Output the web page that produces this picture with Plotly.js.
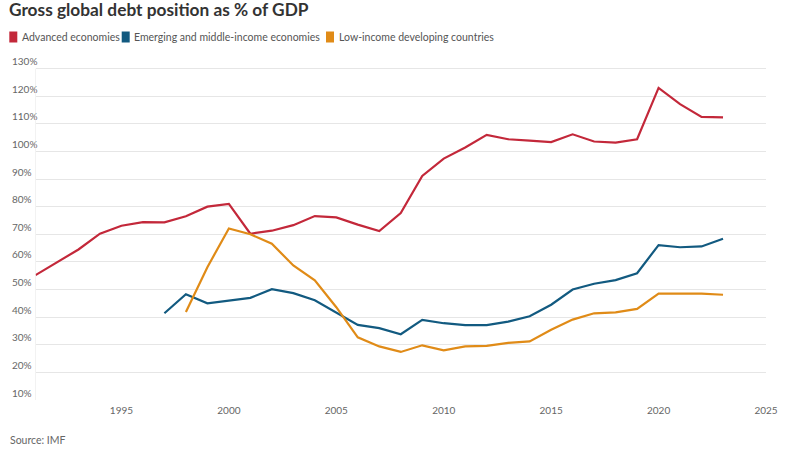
<!DOCTYPE html>
<html>
<head>
<meta charset="utf-8">
<script src="https://cdn.plot.ly/plotly-3.0.1.min.js"></script>
<style>
  html, body { margin: 0; padding: 0; background: #ffffff; }
  #chart { width: 788px; height: 454px; }
</style>
</head>
<body>
<div id="chart"></div>
<script>
// ---- Data ----
const years = [1991, 1992, 1993, 1994, 1995, 1996, 1997, 1998, 1999, 2000,
               2001, 2002, 2003, 2004, 2005, 2006, 2007, 2008, 2009, 2010,
               2011, 2012, 2013, 2014, 2015, 2016, 2017, 2018, 2019, 2020,
               2021, 2022, 2023];

const advanced = [55.2, 59.8, 64.5, 70.2, 73.1, 74.4, 74.3, 76.5, 80.0, 81.0,
                  70.2, 71.3, 73.3, 76.6, 76.1, 73.5, 71.2, 77.7, 91.1, 97.4,
                  101.4, 106.0, 104.4, 103.9, 103.4, 106.2, 103.6, 103.2, 104.4, 123.0,
                  117.1, 112.5, 112.3];

const emerging = [null, null, null, null, null, null, 41.4, 48.3, 45.0, 46.0,
                  47.0, 50.1, 48.7, 46.1, 41.5, 37.2, 36.0, 33.8, 39.0, 37.8,
                  37.1, 37.1, 38.4, 40.3, 44.5, 50.0, 52.1, 53.4, 55.9, 66.1,
                  65.3, 65.6, 68.4];

const lowIncome = [null, null, null, null, null, null, null, 41.9, 58.1, 72.1,
                   70.0, 66.6, 58.7, 53.3, 43.6, 32.7, 29.4, 27.4, 29.8, 28.0,
                   29.4, 29.6, 30.7, 31.2, 35.4, 39.1, 41.4, 41.7, 43.0, 48.5,
                   48.6, 48.5, 48.1];

const seriesNames = ["Advanced economies", "Emerging and middle-income economies", "Low-income developing countries"];
const xTickVals = [1995, 2000, 2005, 2010, 2015, 2020, 2025];
const yTickVals = [10, 20, 30, 40, 50, 60, 70, 80, 90, 100, 110, 120, 130];

// ---- Styling ----
const colors = ["#c3283a", "#125a80", "#e08b17"];
const FONT = "Source Sans Pro, Lato, sans-serif";

const W = 788, H = 454;
const M = {l: 8, r: 22, t: 52, b: 54};
const plotW = W - M.l - M.r, plotH = H - M.t - M.b;
const px2x = px => (px - M.l) / plotW;
const px2y = py => 1 - (py - M.t) / plotH;
const plotLeftPx = 35.5;

const seriesData = [advanced, emerging, lowIncome];
const traces = seriesData.map((vals, i) => ({
  type: "scatter",
  mode: "lines",
  x: years,
  y: vals,
  name: seriesNames[i],
  line: {color: colors[i], width: 2.2},
  connectgaps: false,
  showlegend: false,
  hoverinfo: "x+y+name"
}));

// Legend built as squares + labels
const legendSquares = [9.3, 121.7, 326];
const legendText = [20, 132.3, 336.7];
const shapes = [];
const annotations = [];
seriesNames.forEach((n, i) => {
  shapes.push({
    type: "rect", xref: "paper", yref: "paper",
    x0: px2x(legendSquares[i]), x1: px2x(legendSquares[i] + 8),
    y0: px2y(42.5), y1: px2y(31.5),
    fillcolor: colors[i], line: {width: 0}
  });
  annotations.push({
    xref: "paper", yref: "paper",
    x: px2x(legendText[i]), y: px2y(37),
    xanchor: "left", yanchor: "middle",
    text: n, showarrow: false,
    font: {family: FONT, size: 10.5, color: "#555555"}
  });
});

// Left vertical axis line of the plot area
shapes.push({
  type: "line", xref: "x", yref: "y",
  x0: 1991, x1: 1991, y0: 10, y1: 130,
  line: {color: "#e6e6e6", width: 1}
});

annotations.push({
  xref: "paper", yref: "paper",
  x: px2x(8), y: px2y(440),
  xanchor: "left", yanchor: "middle",
  text: "Source: IMF", showarrow: false,
  font: {family: FONT, size: 10.5, color: "#666666"}
});

const layout = {
  width: W, height: H,
  margin: M,
  paper_bgcolor: "#ffffff",
  plot_bgcolor: "#ffffff",
  font: {family: FONT, color: "#666666"},
  title: {
    text: "<b>Gross global debt position as % of GDP</b>",
    x: 9 / W, xref: "container", xanchor: "left",
    y: 1 - 10 / H, yref: "container", yanchor: "middle",
    font: {family: FONT, size: 17.3, color: "#333333"}
  },
  showlegend: false,
  xaxis: {
    domain: [px2x(plotLeftPx), 1],
    range: [1991, 2025],
    tickmode: "array",
    tickvals: xTickVals,
    ticktext: xTickVals.map(String),
    showgrid: false,
    zeroline: false,
    showline: false,
    ticks: "",
    ticklabelstandoff: 3,
    tickfont: {family: FONT, size: 10, color: "#666666"},
    fixedrange: true
  },
  yaxis: {
    anchor: "free",
    position: 0,
    range: [10, 136],
    tickmode: "array",
    tickvals: yTickVals,
    ticktext: yTickVals.map(v => v + "%"),
    ticklabelposition: "inside top",
    showgrid: true,
    gridcolor: "#e6e6e6",
    gridwidth: 1,
    zeroline: false,
    showline: false,
    ticks: "",
    tickfont: {family: FONT, size: 10, color: "#666666"},
    fixedrange: true
  },
  shapes: shapes,
  annotations: annotations
};

Plotly.newPlot("chart", traces, layout, {displayModeBar: false, staticPlot: true});
</script>
</body>
</html>
